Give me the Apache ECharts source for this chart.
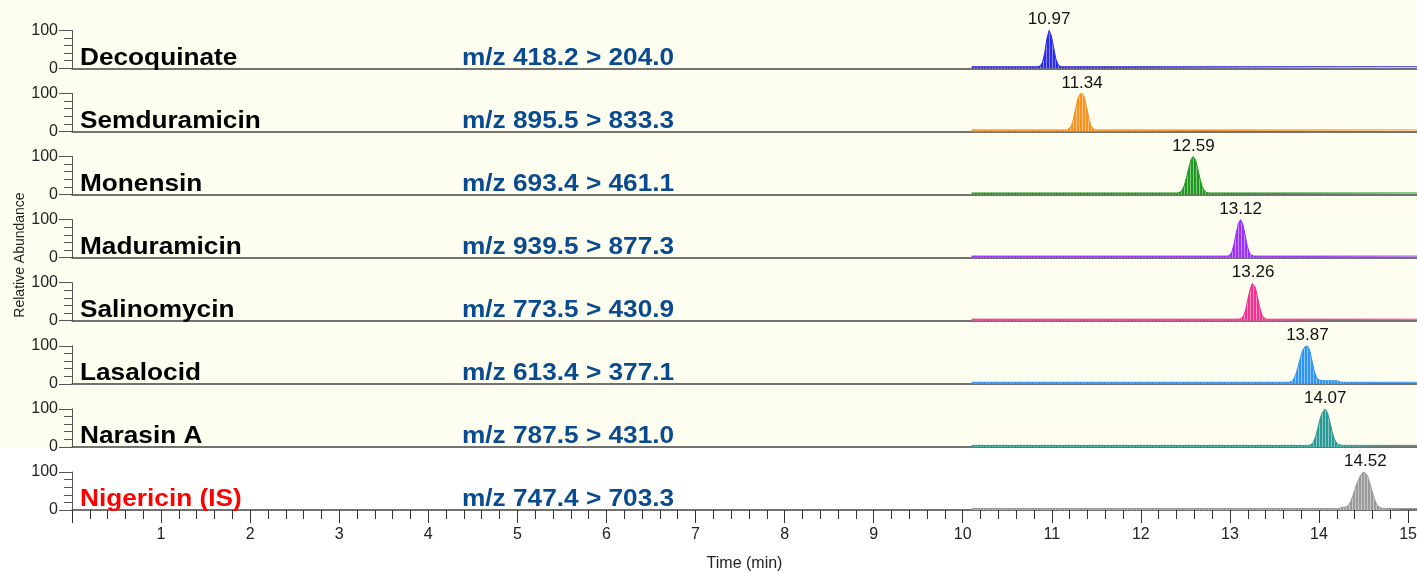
<!DOCTYPE html>
<html><head><meta charset="utf-8">
<script src="https://cdn.jsdelivr.net/npm/echarts@6/dist/echarts.min.js"></script>
<style>html,body{margin:0;padding:0;background:#fff}#c{width:1417px;height:574px}</style>
</head><body><div id="c"></div>
<script>
// ---------- data ----------
const compounds = ['Decoquinate','Semduramicin','Monensin','Maduramicin','Salinomycin','Lasalocid','Narasin A','Nigericin (IS)'];
const transitions = ['m/z 418.2 > 204.0','m/z 895.5 > 833.3','m/z 693.4 > 461.1','m/z 939.5 > 877.3','m/z 773.5 > 430.9','m/z 613.4 > 377.1','m/z 787.5 > 431.0','m/z 747.4 > 703.3'];
const apexTimes = [10.97, 11.34, 12.59, 13.12, 13.26, 13.87, 14.07, 14.52];
const xTickLabels = [1,2,3,4,5,6,7,8,9,10,11,12,13,14,15];

const decoquinate = [[10.10,4],[10.83,4],[10.87,6],[10.895,15],[10.92,40],[10.945,78],[10.97,100],[10.995,85],[11.02,55],[11.045,25],[11.07,10],[11.095,5],[11.12,4],[15.10,4]];
const semduramicin = [[10.10,4],[11.17,4],[11.19,6],[11.215,12],[11.24,30],[11.265,58],[11.29,85],[11.315,98],[11.34,100],[11.365,90],[11.39,65],[11.415,35],[11.44,15],[11.465,7],[11.49,4],[15.10,4]];
const monensin = [[10.10,4],[12.41,4],[12.44,6],[12.465,12],[12.49,25],[12.515,48],[12.54,72],[12.565,93],[12.59,100],[12.615,90],[12.64,66],[12.665,40],[12.69,20],[12.715,9],[12.74,5],[12.77,4],[15.10,4]];
const maduramicin = [[10.10,4],[12.97,4],[12.995,6],[13.02,14],[13.045,35],[13.07,65],[13.095,90],[13.12,100],[13.145,88],[13.17,60],[13.195,30],[13.22,12],[13.245,6],[13.27,4],[15.10,4]];
const salinomycin = [[10.10,4],[13.10,4],[13.125,6],[13.15,12],[13.175,28],[13.20,55],[13.225,82],[13.25,98],[13.26,100],[13.285,88],[13.31,62],[13.335,35],[13.36,15],[13.385,7],[13.41,4],[15.10,4]];
const lasalocid = [[10.10,4],[13.66,4],[13.69,6],[13.715,12],[13.74,25],[13.765,45],[13.79,68],[13.815,88],[13.845,98],[13.87,100],[13.895,88],[13.92,62],[13.945,35],[13.97,18],[13.995,11],[14.02,9],[14.07,8],[14.12,8],[14.20,8],[14.22,5],[14.25,4],[15.10,4]];
const narasinA = [[10.10,4],[13.88,4],[13.91,6],[13.935,12],[13.96,26],[13.985,48],[14.01,72],[14.035,90],[14.07,100],[14.095,90],[14.12,68],[14.145,42],[14.17,22],[14.195,11],[14.22,6],[14.26,4],[15.10,4]];
const nigericin = [[10.10,4],[14.22,4],[14.26,7],[14.30,8],[14.33,12],[14.355,22],[14.38,38],[14.405,56],[14.43,72],[14.455,86],[14.48,96],[14.505,100],[14.52,100],[14.545,90],[14.57,72],[14.595,50],[14.62,30],[14.645,16],[14.67,8],[14.70,5],[14.73,4],[15.10,4]];
const seriesData = [decoquinate, semduramicin, monensin, maduramicin, salinomycin, lasalocid, narasinA, nigericin];

// ---------- styles ----------
const colors = ['#2a2af0','#f7931e','#1f9a1f','#9b30ff','#f0338f','#2f95f5','#2a9a94','#9a9a9a'];
const nameColors = ['#000','#000','#000','#000','#000','#000','#000','#ff0000'];
const FONT = 'Liberation Sans, Arial, sans-serif';
const GL = 72, GT0 = 30.3, PH = 63.1, GH = 38;
const PXPERMIN = (1417 - GL) / 15.1;
const XMAX = 16;
const GW = XMAX * PXPERMIN;

function stripe(color) {
  const c = document.createElement('canvas');
  c.width = 3; c.height = 4;
  const ctx = c.getContext('2d');
  ctx.fillStyle = color; ctx.fillRect(0, 0, 3, 4);
  ctx.fillStyle = 'rgba(255,255,255,0.45)'; ctx.fillRect(2, 0, 1, 4);
  return { image: c, repeat: 'repeat' };
}

const n = compounds.length;
const grids = [], xAxes = [], yAxes = [], series = [], graphics = [];
graphics.push({ type: 'rect', silent: true, z: -100, shape: { x: 0, y: 0, width: 1417, height: GT0 + PH * 6 + GH + 1 }, style: { fill: '#fefef0' } });

for (let i = 0; i < n; i++) {
  const top = GT0 + PH * i;
  const last = i === n - 1;
  grids.push({ left: GL, width: GW, top: top, height: GH, outerBoundsMode: 'none', containLabel: false });
  xAxes.push({
    type: 'value', gridIndex: i, min: 0, max: XMAX, interval: 1,
    axisLine: { show: true, onZero: false, lineStyle: { color: '#444', width: 1.5 } },
    axisTick: { show: last, length: 13, lineStyle: { color: '#333' } },
    minorTick: { show: last, splitNumber: 5, length: 9, lineStyle: { color: '#333' } },
    axisLabel: { show: last, margin: 17, fontSize: 16, color: '#222', fontFamily: FONT,
      formatter: v => (xTickLabels.indexOf(v) >= 0 ? String(v) : '') },
    splitLine: { show: false },
    name: '', 
  });
  yAxes.push({
    type: 'value', gridIndex: i, min: 0, max: 100, interval: 100,
    axisLine: { show: true, lineStyle: { color: '#555', width: 1 } },
    axisTick: { show: true, length: 13, lineStyle: { color: '#555' } },
    minorTick: { show: true, splitNumber: 5, length: 8, lineStyle: { color: '#555' } },
    axisLabel: { margin: 14, fontSize: 16, color: '#222', fontFamily: FONT },
    splitLine: { show: false }
  });
  series.push({
    type: 'line', xAxisIndex: i, yAxisIndex: i, data: seriesData[i],
    symbol: 'none', animation: false,
    lineStyle: { color: colors[i], width: 1 },
    itemStyle: { color: colors[i] },
    areaStyle: { color: stripe(colors[i]), opacity: 1 },
    markPoint: {
      symbol: 'circle', symbolSize: 0, animation: false,
      data: [{ coord: [apexTimes[i], 100], value: apexTimes[i].toFixed(2) }],
      label: { show: true, position: 'top', distance: 2, fontSize: 17, color: '#111', fontFamily: FONT,
        formatter: p => p.value }
    }
  });
  const zeroY = top + GH;
  graphics.push({ type: 'text', x: 80, y: zeroY - 10, scaleX: 1.14, z: 10,
    style: { text: compounds[i], fill: nameColors[i], font: 'bold 23px ' + FONT, textVerticalAlign: 'middle', textAlign: 'left' } });
  graphics.push({ type: 'text', x: 462, y: zeroY - 10, scaleX: 1.14, z: 10,
    style: { text: transitions[i], fill: '#0a4a8f', font: 'bold 23px ' + FONT, textVerticalAlign: 'middle', textAlign: 'left' } });
}
graphics.push({ type: 'text', x: 20, y: 255, rotation: Math.PI / 2, z: 10,
  style: { text: 'Relative Abundance', fill: '#222', font: '14px ' + FONT, textAlign: 'center', textVerticalAlign: 'middle' } });
graphics.push({ type: 'text', x: GL + (1417 - GL) / 2, y: 564, z: 10,
  style: { text: 'Time (min)', fill: '#222', font: '16px ' + FONT, textAlign: 'center', textVerticalAlign: 'middle' } });

const chart = echarts.init(document.getElementById('c'), null, { renderer: 'canvas' });
chart.setOption({
  backgroundColor: '#ffffff', animation: false,
  grid: grids, xAxis: xAxes, yAxis: yAxes, series: series, graphic: graphics
});
</script></body></html>
